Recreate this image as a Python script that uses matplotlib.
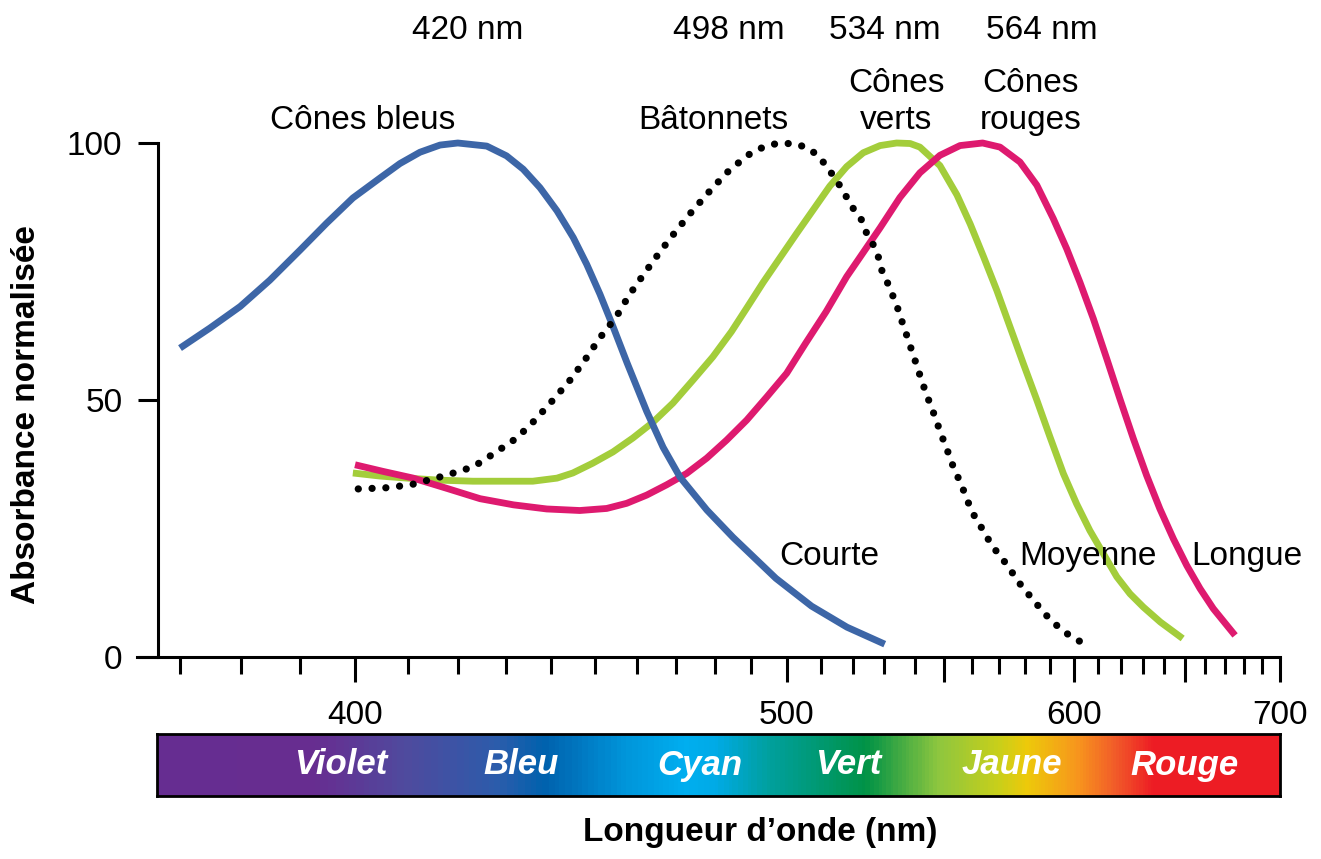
import numpy as np
import matplotlib
matplotlib.use("Agg")
import matplotlib.pyplot as plt
from matplotlib.colors import LinearSegmentedColormap, Normalize
from matplotlib.ticker import FixedLocator, FixedFormatter

plt.rcParams['font.family'] = ['Liberation Sans', 'DejaVu Sans']

# ---- absorbance spectra (wavelength in nm, normalised absorbance in %) ----
blue_nm = [370, 374.8, 379.8, 384.8, 390.1, 394.8, 399.6, 404.7, 408.5, 412.4, 416.4,
           420, 426, 430.2, 433.8, 437.5, 441.3, 445, 448.1, 451.2, 454.4, 457.7,
           462.5, 466.6, 470.9, 477.9, 484.9, 496.9, 507.3, 518.1, 530.1]
blue_abs = [60.1, 64.0, 68.2, 73.3, 79.2, 84.4, 89.3, 93.2, 96.0, 98.2, 99.6,
            100, 99.4, 97.5, 94.9, 91.3, 86.8, 81.6, 76.4, 70.6, 64.1, 57.2,
            47.8, 40.8, 35.0, 28.6, 23.3, 15.3, 9.9, 5.8, 2.5]

rod_nm = [400.6, 405.6, 410.6, 417.8, 423.2, 427.7, 432.4, 436.4, 440.4, 444.3, 447.7,
          451.2, 455.1, 458.2, 461.9, 465.7, 469.7, 473.9, 478.5, 483.2, 488.7, 491.9,
          495.2, 498, 502.7, 506.3, 509.3, 511.8, 514.1, 516.2, 518.3, 520.3, 522.7,
          524.3, 526.4, 528.0, 529.1, 530.8, 532.4, 534.0, 535.4, 536.8, 538.2, 539.6,
          540.9, 542.4, 543.8, 545.5, 547.0, 548.5, 550.1, 551.7, 553.4, 555.2, 557.0,
          558.8, 560.6, 563.0, 565.5, 568.0, 571.1, 574.3, 576.9, 580.1, 583.3, 586.7,
          590.0, 594.0, 598.2, 602.8]
rod_abs = [32.7, 32.9, 33.5, 35.4, 37.0, 39.7, 42.6, 46.1, 50.0, 53.9, 57.8,
           62.1, 66.2, 70.4, 74.6, 78.7, 82.7, 86.6, 90.5, 94.2, 97.5, 98.8,
           99.6, 100, 99.8, 99.0, 97.5, 95.5, 93.4, 91.4, 89.1, 87.0, 85.0,
           82.4, 80.2, 77.9, 75.3, 73.1, 70.8, 68.5, 65.9, 63.6, 61.0, 58.8,
           56.3, 53.9, 51.4, 49.0, 46.7, 44.3, 41.9, 39.6, 37.0, 34.8, 32.5,
           30.0, 27.8, 25.7, 23.4, 21.3, 19.3, 17.1, 15.0, 13.0, 11.1, 9.1,
           7.3, 5.6, 4.1, 2.9]

green_nm = [399.6, 404.7, 409.9, 416.4, 423.1, 430.3, 435.9, 441.3, 444.9, 449.5, 454.3,
            459.1, 464.1, 469.1, 474.3, 479.5, 484.5, 488.7, 493.3, 498.1, 502.9, 507.8,
            512.8, 518.0, 523.2, 528.6, 534, 538.5, 541.8, 548.7, 554.7, 559.5, 564.4,
            569.3, 574.3, 579.4, 584.7, 589.9, 595.4, 600.9, 606.5, 612.3, 618.2, 624.1,
            630.2, 638.1, 648.8]
green_abs = [35.8, 35.2, 34.8, 34.4, 34.2, 34.2, 34.2, 34.8, 35.8, 37.7, 39.9,
             42.6, 45.7, 49.4, 53.9, 58.4, 63.3, 67.9, 72.9, 77.7, 82.4, 87.0,
             91.6, 95.4, 98.1, 99.5, 100, 99.9, 99.2, 95.6, 89.9, 84.2, 77.8,
             71.3, 64.2, 57.1, 50.0, 42.9, 35.7, 29.8, 24.6, 20.1, 15.6, 12.3,
             9.7, 6.8, 3.6]

red_nm = [400, 405.3, 411.1, 417.8, 424.6, 431.7, 439, 446.5, 452.8, 457.6, 462.5,
          467.5, 472.6, 477.9, 483.2, 488.7, 494.3, 500, 505.5, 511.7, 518, 522.2,
          528.6, 535.1, 541.8, 548.7, 555.8, 564, 570.5, 578.1, 584.7, 591.3, 596.8,
          602.3, 608.0, 613.8, 619.6, 625.6, 631.7, 637.9, 644.3, 650.8, 657.4, 664.1,
          671.0, 675.4]
red_abs = [37.4, 36.1, 34.8, 32.8, 30.8, 29.6, 28.8, 28.5, 28.9, 29.9, 31.5,
           33.5, 35.7, 38.7, 42.2, 46.1, 50.6, 55.2, 61.0, 67.2, 74.0, 77.8,
           83.5, 89.4, 94.2, 97.6, 99.5, 100, 99.2, 96.3, 91.8, 85.3, 79.4,
           72.9, 65.8, 58.0, 50.2, 42.5, 35.3, 28.8, 23.0, 17.8, 13.3, 9.4,
           6.2, 4.2]

# ---- labels ----
peak_labels = ["420 nm", "498 nm", "534 nm", "564 nm"]
peak_label_x = [422, 483.8, 530.2, 586.7]
tick_major = [400, 500, 550, 600, 650, 700]
tick_major_labels = ["400", "500", "", "600", "", "700"]
tick_minor = [370, 380, 390] + [v for v in range(410, 700, 10) if v not in (500, 550, 600, 650)]

band_names = ["Violet", "Bleu", "Cyan", "Vert", "Jaune", "Rouge"]
band_x = [397.4, 433.3, 476.1, 518.4, 575.0, 649.9]

# colour stops of the visible spectrum strip (nm, colour)
spectrum_stops = [(366.4, "#662D91"), (392, "#672D90"), (409, "#4F4A9E"), (428, "#2B5CAB"),
                  (438, "#0061AD"), (457, "#0095DA"), (472, "#00AEEF"), (480, "#00AAE6"),
                  (494, "#00A0A0"), (524, "#009246"), (548, "#8DC63F"), (570, "#C8CF1A"),
                  (581, "#EDC90A"), (602, "#F7941D"), (618, "#F15A29"), (635, "#ED1C24"),
                  (700, "#ED1C24")]

C_BLUE = "#3D66A7"
C_GREEN = "#A3CD3B"
C_RED = "#DE1A6F"


def to_wavenumber(nm):
    nm = np.asarray(nm, dtype=float)
    with np.errstate(divide="ignore", invalid="ignore"):
        return -1.0e4 / nm


def from_wavenumber(k):
    k = np.asarray(k, dtype=float)
    with np.errstate(divide="ignore", invalid="ignore"):
        return -1.0e4 / k


W, H = 1321, 859
fig = plt.figure(figsize=(W / 100, H / 100), dpi=100)
fig.patch.set_facecolor("white")

# main plot: wavelength axis linear in wavenumber
ax = fig.add_axes([137 / W, (H - 657) / H, (1280 - 137) / W, 514 / H])
ax.set_xscale("function", functions=(to_wavenumber, from_wavenumber))
ax.set_xlim(363.3, 700)
ax.set_ylim(0, 100)

lw = 4.9
common = dict(lw=lw, solid_capstyle="butt", solid_joinstyle="round", clip_on=False)
ax.plot(green_nm, green_abs, color=C_GREEN, zorder=3, **common)
ax.plot(red_nm, red_abs, color=C_RED, zorder=4, **common)
ax.plot(blue_nm, blue_abs, color=C_BLUE, zorder=5, **common)
ax.plot(rod_nm, rod_abs, color="black", lw=5.2, linestyle=(0, (0.01, 1.9)),
        dash_capstyle="round", clip_on=False, zorder=6)

# axes styling
for side in ("top", "right"):
    ax.spines[side].set_visible(False)
ax.spines["left"].set_position(("data", 366.5))
ax.spines["left"].set_bounds(0, 100)
ax.spines["left"].set_linewidth(2.2)
ax.spines["bottom"].set_linewidth(2.2)

ax.xaxis.set_major_locator(FixedLocator(tick_major))
ax.xaxis.set_major_formatter(FixedFormatter(tick_major_labels))
ax.xaxis.set_minor_locator(FixedLocator(tick_minor))
ax.xaxis.set_minor_formatter(FixedFormatter([""] * len(tick_minor)))
ax.tick_params(axis="x", which="major", length=18, width=2.2, direction="out",
               labelsize=24, pad=13)
ax.tick_params(axis="x", which="minor", length=12.5, width=2.2, direction="out")
ax.set_yticks([0, 50, 100])
ax.set_yticklabels(["0", "50", "100"])
ax.tick_params(axis="y", length=14.4, width=2.2, direction="out", labelsize=24, pad=11)

fs = 24
for txt, xv in zip(peak_labels, peak_label_x):
    ax.text(xv, 120.2, txt, ha="center", va="baseline", fontsize=fs, clip_on=False)

ax.text(401.5, 102.7, "Cônes bleus", ha="center", va="baseline", fontsize=fs)
ax.text(479.6, 102.7, "Bâtonnets", ha="center", va="baseline", fontsize=fs)
ax.text(533.9, 109.9, "Cônes", ha="center", va="baseline", fontsize=fs)
ax.text(533.9, 102.7, "verts", ha="center", va="baseline", fontsize=fs)
ax.text(582.1, 109.9, "Cônes", ha="center", va="baseline", fontsize=fs)
ax.text(582.1, 102.7, "rouges", ha="center", va="baseline", fontsize=fs)

ax.text(512.5, 17.9, "Courte", ha="center", va="baseline", fontsize=fs)
ax.text(605.7, 17.9, "Moyenne", ha="center", va="baseline", fontsize=fs)
ax.text(681.7, 17.9, "Longue", ha="center", va="baseline", fontsize=fs)

fig.text(27 / W, 1 - 415 / H, "Absorbance normalisée", rotation=90, ha="center",
         va="center", fontsize=fs, fontweight="bold")
fig.text(760 / W, 1 - 833 / H, "Longueur d’onde (nm)", ha="center", va="center",
         fontsize=fs, fontweight="bold")

# spectrum strip below the axis
bax = fig.add_axes([157 / W, (H - 796) / H, (1280 - 157) / W, 62 / H])
bax.set_xscale("function", functions=(to_wavenumber, from_wavenumber))
lo, hi = spectrum_stops[0][0], spectrum_stops[-1][0]
cmap = LinearSegmentedColormap.from_list(
    "spectrum", [((s - lo) / (hi - lo), c) for s, c in spectrum_stops])
edges = np.linspace(lo, hi, 700)
centers = 0.5 * (edges[:-1] + edges[1:])
bax.pcolormesh(edges, [0, 1], centers[np.newaxis, :], cmap=cmap,
               norm=Normalize(lo, hi), shading="flat")
bax.set_xlim(lo, hi)
bax.set_ylim(0, 1)
bax.set_xticks([])
bax.set_yticks([])
bax.minorticks_off()
for sp in bax.spines.values():
    sp.set_linewidth(2)
    sp.set_color("black")
for name, xv in zip(band_names, band_x):
    bax.text(xv, 0.5, name, ha="center", va="center", color="white",
             fontsize=25, fontweight="bold", fontstyle="italic")

fig.savefig("out.png", dpi=100, facecolor="white")
